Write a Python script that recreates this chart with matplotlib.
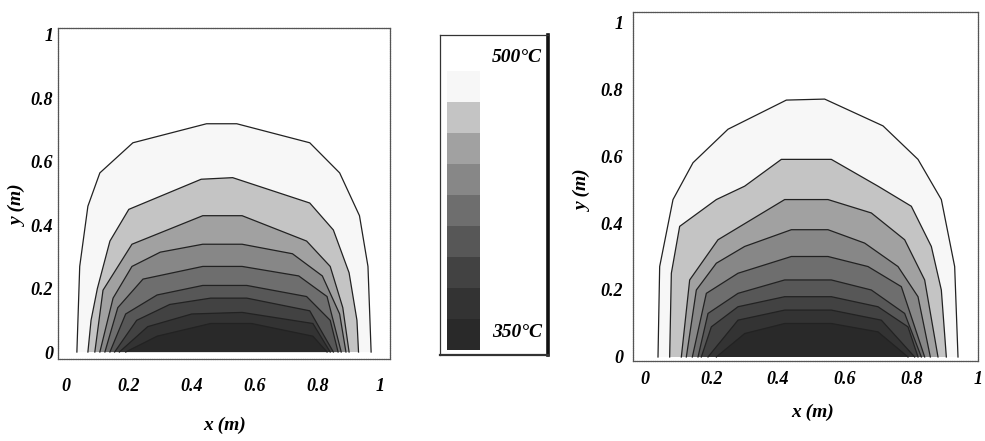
import matplotlib
matplotlib.use("Agg")
import matplotlib.pyplot as plt

# ---------------- data ----------------
levels = [350, 365, 380, 395, 410, 425, 440, 455, 470, 485, 500]
band_gray = [0.16, 0.2, 0.26, 0.34, 0.43, 0.53, 0.63, 0.77, 0.97, 1.0]
line_levels = [485, 470, 455, 440, 425, 410, 395, 380, 365]

tick_vals = [0, 0.2, 0.4, 0.6, 0.8, 1]
tick_text = ["0", "0.2", "0.4", "0.6", "0.8", "1"]

# left plot isotherms (outer -> inner)
L485_x = [0.035, 0.044, 0.07, 0.108, 0.213, 0.447, 0.543, 0.775, 0.87, 0.933, 0.96, 0.97]
L485_y = [0, 0.27, 0.46, 0.565, 0.66, 0.72, 0.72, 0.66, 0.565, 0.43, 0.27, 0]
L470_x = [0.07, 0.08, 0.1, 0.14, 0.2, 0.43, 0.53, 0.775, 0.85, 0.9, 0.925, 0.93]
L470_y = [0, 0.1, 0.2, 0.35, 0.45, 0.545, 0.55, 0.47, 0.385, 0.25, 0.1, 0]
L455_x = [0.092, 0.118, 0.21, 0.435, 0.56, 0.765, 0.84, 0.88, 0.9]
L455_y = [0, 0.195, 0.34, 0.43, 0.43, 0.35, 0.27, 0.14, 0]
L440_x = [0.108, 0.15, 0.21, 0.3, 0.435, 0.56, 0.72, 0.815, 0.87, 0.89]
L440_y = [0, 0.17, 0.27, 0.315, 0.34, 0.34, 0.31, 0.24, 0.12, 0]
L425_x = [0.124, 0.165, 0.245, 0.435, 0.56, 0.74, 0.83, 0.875]
L425_y = [0, 0.14, 0.23, 0.27, 0.27, 0.24, 0.175, 0]
L410_x = [0.14, 0.19, 0.29, 0.435, 0.575, 0.765, 0.84, 0.865]
L410_y = [0, 0.12, 0.18, 0.21, 0.21, 0.175, 0.1, 0]
L395_x = [0.155, 0.225, 0.33, 0.46, 0.575, 0.775, 0.85]
L395_y = [0, 0.1, 0.15, 0.17, 0.17, 0.13, 0]
L380_x = [0.17, 0.26, 0.4, 0.56, 0.785, 0.84]
L380_y = [0, 0.08, 0.12, 0.125, 0.09, 0]
L365_x = [0.19, 0.29, 0.46, 0.59, 0.785, 0.83]
L365_y = [0, 0.05, 0.09, 0.09, 0.05, 0]

# right plot isotherms (outer -> inner)
R485_x = [0.04, 0.045, 0.085, 0.145, 0.25, 0.425, 0.54, 0.715, 0.82, 0.89, 0.93, 0.94]
R485_y = [0, 0.27, 0.47, 0.58, 0.68, 0.767, 0.77, 0.69, 0.59, 0.47, 0.27, 0]
R470_x = [0.075, 0.08, 0.105, 0.215, 0.3, 0.41, 0.56, 0.7, 0.8, 0.86, 0.89, 0.905]
R470_y = [0, 0.25, 0.39, 0.47, 0.51, 0.59, 0.59, 0.51, 0.45, 0.33, 0.2, 0]
R455_x = [0.11, 0.135, 0.22, 0.42, 0.55, 0.68, 0.78, 0.84, 0.88]
R455_y = [0, 0.23, 0.35, 0.47, 0.47, 0.43, 0.35, 0.23, 0]
R440_x = [0.125, 0.155, 0.215, 0.3, 0.44, 0.55, 0.66, 0.76, 0.82, 0.857]
R440_y = [0, 0.2, 0.28, 0.33, 0.38, 0.38, 0.34, 0.27, 0.18, 0]
R425_x = [0.143, 0.185, 0.28, 0.44, 0.55, 0.67, 0.77, 0.84]
R425_y = [0, 0.19, 0.25, 0.3, 0.3, 0.27, 0.21, 0]
R410_x = [0.16, 0.19, 0.28, 0.42, 0.56, 0.68, 0.78, 0.83]
R410_y = [0, 0.13, 0.19, 0.23, 0.23, 0.2, 0.13, 0]
R395_x = [0.17, 0.2, 0.28, 0.42, 0.56, 0.7, 0.79, 0.82]
R395_y = [0, 0.09, 0.15, 0.18, 0.18, 0.15, 0.09, 0]
R380_x = [0.19, 0.28, 0.42, 0.56, 0.71, 0.81]
R380_y = [0, 0.11, 0.14, 0.14, 0.11, 0]
R365_x = [0.215, 0.3, 0.42, 0.56, 0.7, 0.79]
R365_y = [0, 0.07, 0.1, 0.1, 0.075, 0]

left_lines = [(L485_x, L485_y), (L470_x, L470_y), (L455_x, L455_y), (L440_x, L440_y),
              (L425_x, L425_y), (L410_x, L410_y), (L395_x, L395_y), (L380_x, L380_y),
              (L365_x, L365_y)]
right_lines = [(R485_x, R485_y), (R470_x, R470_y), (R455_x, R455_y), (R440_x, R440_y),
               (R425_x, R425_y), (R410_x, R410_y), (R395_x, R395_y), (R380_x, R380_y),
               (R365_x, R365_y)]

# ---------------- style ----------------
FONT = dict(family="Liberation Serif", weight="bold", style="italic")
LINE_C = "#222222"
FRAME_C = "#555555"


def gray(v):
    return (v, v, v)


fig = plt.figure(figsize=(9.85, 4.41), dpi=100)


def draw_panel(ax, lines, xlim, ylim, xpad, ypad, xlab_pos, ylab_pos):
    ax.set_xlim(*xlim)
    ax.set_ylim(*ylim)
    for lev, (xs, ys) in zip(line_levels, lines):
        idx = levels.index(lev) - 1
        ax.fill(xs, ys, color=gray(band_gray[idx]), lw=0, zorder=2)
        ax.plot(xs, ys, color=LINE_C, lw=0.9, zorder=3)
    ax.set_xticks(tick_vals)
    ax.set_xticklabels(tick_text, fontsize=13, **FONT)
    ax.set_yticks(tick_vals)
    ax.set_yticklabels(tick_text, fontsize=13, **FONT)
    ax.tick_params(axis="x", length=0, pad=xpad)
    ax.tick_params(axis="y", length=0, pad=ypad)
    ax.set_xlabel("x (m)", fontsize=14, **FONT)
    ax.set_ylabel("y (m)", fontsize=14, **FONT)
    ax.xaxis.set_label_coords(*xlab_pos)
    ax.yaxis.set_label_coords(*ylab_pos)
    for s in ax.spines.values():
        s.set_color(FRAME_C)
        s.set_linewidth(0.9)
        s.set_linestyle((0, (1.2, 0.6)))


axL = fig.add_axes([58 / 985, (441 - 359) / 441, 332 / 985, 331 / 441])
draw_panel(axL, left_lines, (-0.025, 1.03), (-0.022, 1.022), 14, 3.5,
           (0.503, -0.175), (-0.093, 0.465))

axR = fig.add_axes([633 / 985, (441 - 361) / 441, 345 / 985, 349 / 441])
draw_panel(axR, right_lines, (-0.035, 0.99), (-0.012, 1.03), 7.5, 7,
           (0.52, -0.122), (-0.119, 0.49))

# ---------------- colour bar panel ----------------
axC = fig.add_axes([440 / 985, (441 - 355) / 441, 108 / 985, 320 / 441])
axC.set_xlim(0, 1)
axC.set_ylim(347.5, 502.5)
band_bottoms = levels[:-1]
band_heights = [levels[i + 1] - levels[i] for i in range(len(levels) - 1)]
axC.bar([0.2175] * len(band_bottoms), band_heights, bottom=band_bottoms, width=0.305,
        color=[gray(g) for g in band_gray], linewidth=0)
axC.set_xticks([])
axC.set_yticks([])
for s in axC.spines.values():
    s.set_color("#333333")
    s.set_linewidth(0.9)
axC.spines["right"].set_linewidth(2.6)
axC.spines["right"].set_color("#111111")
axC.spines["bottom"].set_linewidth(1.6)
axC.text(0.945, 0.93, f"{levels[-1]}°C", transform=axC.transAxes, ha="right",
         va="center", fontsize=14, **FONT)
axC.text(0.945, 0.069, f"{levels[0]}°C", transform=axC.transAxes, ha="right",
         va="center", fontsize=14, **FONT)

fig.savefig("out.png", dpi=100)
